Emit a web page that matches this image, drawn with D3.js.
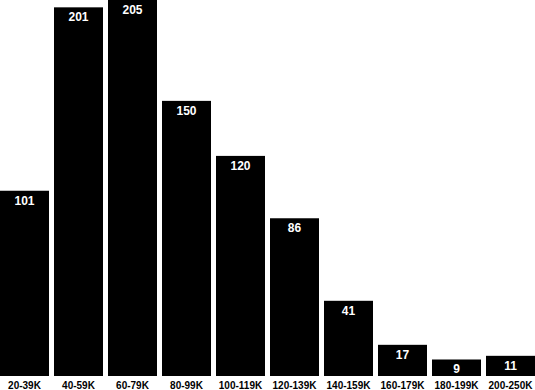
<!DOCTYPE html>
<html>
<head>
<meta charset="utf-8">
<script src="https://cdn.jsdelivr.net/npm/d3@7"></script>
<style>
  body { margin: 0; background: #fff; }
  svg { display: block; }
</style>
</head>
<body>
<svg id="chart"></svg>
<script>
const categories = ['20-39K', '40-59K', '60-79K', '80-99K', '100-119K', '120-139K', '140-159K', '160-179K', '180-199K', '200-250K'];
const counts = [101, 201, 205, 150, 120, 86, 41, 17, 9, 11];

const width = 535;
const height = 390;
const plotBottom = 376;

const svg = d3.select('#chart').attr('width', width).attr('height', height);

const data = categories.map((c, i) => ({ label: c, value: counts[i] }));

const xScale = d3.scaleBand()
  .domain(categories)
  .range([0, width])
  .paddingInner(0.0926)
  .paddingOuter(0);

const yScale = d3.scaleLinear()
  .domain([0, d3.max(counts)])
  .range([plotBottom, 0]);

// bars
svg.selectAll('.bar')
  .data(data)
  .enter()
  .append('rect')
  .attr('class', 'bar')
  .attr('x', (d) => xScale(d.label))
  .attr('y', (d) => yScale(d.value))
  .attr('width', xScale.bandwidth())
  .attr('height', (d) => plotBottom - yScale(d.value))
  .attr('fill', '#000');

// value labels inside the top of each bar
svg.selectAll('.value')
  .data(data)
  .enter()
  .append('text')
  .attr('class', 'value')
  .attr('x', (d) => xScale(d.label) + xScale.bandwidth() / 2)
  .attr('y', (d) => yScale(d.value) + 14)
  .attr('text-anchor', 'middle')
  .style('font-family', 'Liberation Sans, Arial, sans-serif')
  .style('font-weight', 'bold')
  .style('font-size', '12px')
  .style('fill', '#fff')
  .text((d) => d.value);

// category axis, no line or ticks
const xAxis = svg.append('g')
  .attr('transform', `translate(0,${plotBottom})`)
  .call(d3.axisBottom(xScale).tickSize(0).tickPadding(6));

xAxis.select('.domain').remove();
xAxis.selectAll('text')
  .style('font-family', 'Liberation Sans, Arial, sans-serif')
  .style('font-weight', 'bold')
  .style('font-size', '10px')
  .style('fill', '#000');
</script>
</body>
</html>
